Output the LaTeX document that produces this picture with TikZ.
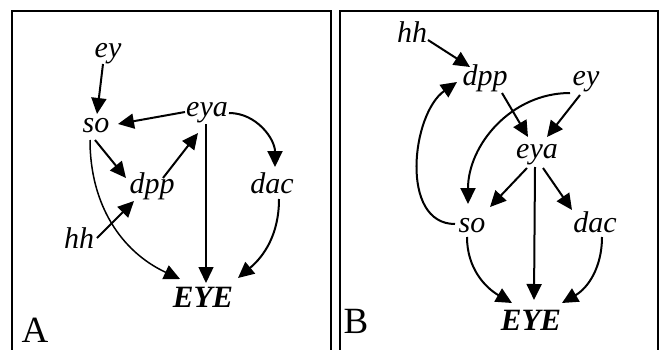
\documentclass[tikz,border=0pt]{standalone}
\usepackage{fontspec}
\setmainfont{Liberation Serif}
\usetikzlibrary{arrows.meta}
\begin{document}
\begin{tikzpicture}[x=1pt,y=-1pt,
  lbl/.style={inner sep=0pt,anchor=base,font=\fontsize{30}{36}\selectfont\itshape},
  big/.style={inner sep=0pt,anchor=base,font=\fontsize{31}{36}\selectfont\bfseries\itshape},
  panel/.style={inner sep=0pt,anchor=base,font=\fontsize{37}{40}\selectfont},
  arr/.style={-{Triangle[length=16pt,width=15pt]},line width=2pt},
  thinarr/.style={-{Triangle[length=16pt,width=15pt]},line width=1.5pt},
  frame/.style={line width=1.8pt}]
\useasboundingbox (0,0) rectangle (660,350);
\fill[white] (0,0) rectangle (660,350);
% frames
\draw[frame] (12,350) -- (12,11) -- (331,11) -- (331,350);
\draw[frame] (340,350) -- (340,11) -- (658,11) -- (658,350);
% ---------- Panel A ----------
\node[lbl] (eyA) at (108,58) {ey};
\node[lbl] (soA) at (96,132) {so};
\node[lbl] (eyaA) at (207,116) {eya};
\node[lbl] (dppA) at (152,193) {dpp};
\node[lbl] (dacA) at (272,193) {dac};
\node[lbl] (hhA) at (79,248) {hh};
\node[big] (EYEA) at (203,307) {EYE};
\node[panel] (labA) at (35,342) {A};
\draw[arr] ([shift={(-5,6)}]eyA.base) -- ([shift={(1,-18)}]soA.base);
\draw[arr] ([shift={(-22,-4)}]eyaA.base) -- ([shift={(22,-8)}]soA.base);
\draw[arr] ([shift={(-1,8)}]soA.base) -- ([shift={(-26,-15)}]dppA.base);
\draw[arr] ([shift={(11,-15)}]dppA.base) -- ([shift={(-9,17)}]eyaA.base);
\draw[arr] ([shift={(18,-10)}]hhA.base) -- ([shift={(-18,8)}]dppA.base);
\draw[thinarr] ([shift={(-1,8)}]eyaA.base) -- ([shift={(3,-24)}]EYEA.base);
\draw[arr] ([shift={(22,-3)}]eyaA.base) to[out=0,in=90] ([shift={(3,-26)}]dacA.base);
\draw[arr] ([shift={(7,6)}]dacA.base) to[out=-90,in=40] ([shift={(35,-29)}]EYEA.base);
\draw[thinarr] ([shift={(-6,8)}]soA.base) to[out=-90,in=155] ([shift={(-23,-28)}]EYEA.base);
% ---------- Panel B ----------
\node[lbl] (hhB) at (412,43) {hh};
\node[lbl] (dppB) at (485,85) {dpp};
\node[lbl] (eyB) at (586,85) {ey};
\node[lbl] (eyaB) at (537,158) {eya};
\node[lbl] (soB) at (472,232) {so};
\node[lbl] (dacB) at (595,232) {dac};
\node[big] (EYEB) at (531,330) {EYE};
\node[panel] (labB) at (356,333) {B};
\draw[arr] ([shift={(16,-3)}]hhB.base) -- ([shift={(-15,-18)}]dppB.base);
\draw[arr] ([shift={(17,8)}]dppB.base) -- ([shift={(-9,-21)}]eyaB.base);
\draw[arr] ([shift={(-6,10)}]eyB.base) -- ([shift={(10,-21)}]eyaB.base);
\draw[arr] ([shift={(-16,8)}]eyB.base) to[out=180,in=90] ([shift={(-4,-28)}]soB.base);
\draw[arr] ([shift={(-17,-8)}]soB.base) to[out=180,in=215] ([shift={(-28,-3)}]dppB.base);
\draw[arr] ([shift={(-10,10)}]eyaB.base) -- ([shift={(18,-25)}]soB.base);
\draw[arr] ([shift={(6,10)}]eyaB.base) -- ([shift={(-23,-22)}]dacB.base);
\draw[arr] ([shift={(-2,9)}]eyaB.base) -- ([shift={(3,-30)}]EYEB.base);
\draw[arr] ([shift={(-5,5)}]soB.base) to[out=-90,in=150] ([shift={(-19,-27)}]EYEB.base);
\draw[arr] ([shift={(7,5)}]dacB.base) to[out=-90,in=30] ([shift={(31,-27)}]EYEB.base);
\end{tikzpicture}
\end{document}
